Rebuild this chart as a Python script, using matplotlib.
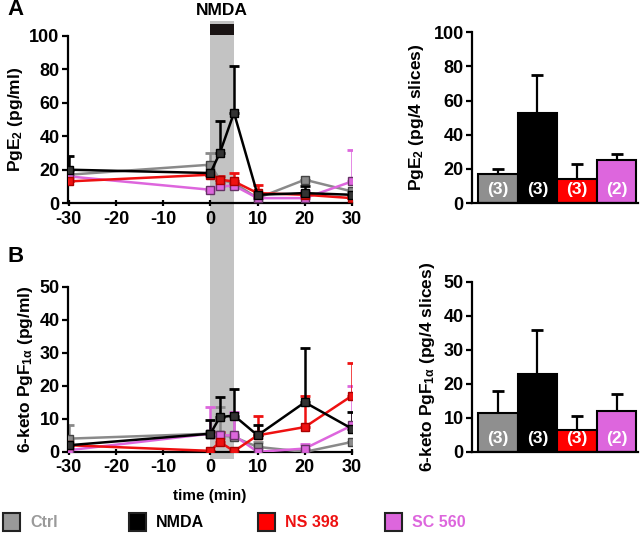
import numpy as np
import matplotlib
matplotlib.use("Agg")
import matplotlib.pyplot as plt
from matplotlib.patches import Rectangle
from matplotlib.transforms import blended_transform_factory

plt.rcParams['font.family'] = ['Liberation Sans', 'DejaVu Sans']
plt.rcParams['font.weight'] = 'bold'
plt.rcParams['axes.unicode_minus'] = False
plt.rcParams['mathtext.fontset'] = 'custom'
plt.rcParams['mathtext.rm'] = 'Liberation Sans:bold'
plt.rcParams['mathtext.it'] = 'Liberation Sans:bold'
plt.rcParams['mathtext.bf'] = 'Liberation Sans:bold'

# ---------------- data ----------------
time = [-30, 0, 2, 5, 10, 20, 30]
groups = ['Ctrl', 'NMDA', 'NS 398', 'SC 560']
line_colors = ['#8a8a8a', '#000000', '#ee1111', '#dd66dd']
marker_faces = ['#8a8a8a', '#333333', '#ee1111', '#dd66dd']
marker_edges = ['#444444', '#000000', '#aa0000', '#663366']
bar_colors = ['#8f8f8f', '#000000', '#ff0000', '#dd66dd']
legend_text_colors = ['#9a9a9a', '#000000', '#ee1111', '#dd66dd']

# PgE2 time courses (pg/ml)
pge2_ctrl = [17, 23, 14, 12, 3, 14, 7]
pge2_nmda = [20, 18, 30, 54, 5, 6, 5]
pge2_ns = [13, 17, 14, 13, 6, 5, 3]
pge2_sc = [16, 8, 10, 10.5, 3, 3, 13]
pge2_ctrl_err = [0, 7, 0, 0, 0, 0, 0]
pge2_nmda_err = [8, 0, 19, 28, 0, 4, 0]
pge2_ns_err = [0, 0, 2, 5, 5, 0, 0]
pge2_sc_err = [0, 0, 0, 0, 0, 4, 19]

# 6-keto PgF1a time courses (pg/ml)
pgf_ctrl = [4, 5.5, 5, 4.5, 1.5, 0, 3]
pgf_nmda = [2, 5.5, 10.5, 11, 5, 15, 7]
pgf_ns = [2, 0.3, 3, 0.2, 5, 7.5, 17]
pgf_sc = [0.5, 5.5, 5, 5, 0, 1, 8]
pgf_ctrl_err = [4, 0, 8.5, 6, 1.5, 0, 0]
pgf_nmda_err = [0, 4, 6, 8, 3, 16.5, 5]
pgf_ns_err = [0, 0, 3, 0, 6, 9.5, 10]
pgf_sc_err = [0, 8, 0, 7, 0, 1.5, 12]

# bar summaries
bar_pge2 = [17, 53, 14, 25]
bar_pge2_err = [3, 22, 9, 4]
bar_pgf = [11.5, 23, 6.5, 12]
bar_pgf_err = [6.5, 13, 4, 5]
bar_n = ['(3)', '(3)', '(3)', '(2)']

nmda_start, nmda_end = 0, 5

# ---------------- figure ----------------
fig = plt.figure(figsize=(6.4, 5.36), dpi=100)
ax_a = fig.add_axes([0.106, 0.621, 0.444, 0.312])
ax_b = fig.add_axes([0.106, 0.157, 0.444, 0.308])
ax_ar = fig.add_axes([0.7375, 0.621, 0.26, 0.319])
ax_br = fig.add_axes([0.7375, 0.157, 0.26, 0.317])

TICK_FS = 13
LABEL_FS = 12.5

def style(ax):
    ax.set_facecolor('none')
    for s in ['top', 'right']:
        ax.spines[s].set_visible(False)
    for s in ['left', 'bottom']:
        ax.spines[s].set_linewidth(1.6)
        ax.spines[s].set_color('black')
    ax.tick_params(axis='y', direction='out', length=4, width=1.6, labelsize=TICK_FS, pad=2)
    for lab in ax.get_yticklabels() + ax.get_xticklabels():
        lab.set_fontweight('bold')

def line_panel(ax, series, errs, ylim, yticks):
    order = [0, 3, 2, 1]
    for i in order:
        y = series[i]
        e = errs[i]
        ax.errorbar(time, y, yerr=[np.zeros(len(e)), e], fmt='none', ecolor=line_colors[i],
                    elinewidth=1.8, capsize=3.5, capthick=2, zorder=2)
        ax.plot(time, y, color=line_colors[i], lw=1.8, marker='s', ms=5.5,
                mfc=marker_faces[i], mec=marker_edges[i], mew=1, zorder=3)
    ax.set_xlim(-30.2, 29.6)
    ax.set_ylim(*ylim)
    ax.set_yticks(yticks)
    ax.set_xticks([-30, -20, -10, 0, 10, 20, 30])
    ax.tick_params(axis='x', direction='inout', length=5, width=1.6, labelsize=TICK_FS, pad=3)
    style(ax)

line_panel(ax_a, [pge2_ctrl, pge2_nmda, pge2_ns, pge2_sc],
           [pge2_ctrl_err, pge2_nmda_err, pge2_ns_err, pge2_sc_err], (0, 100), [0, 20, 40, 60, 80, 100])
line_panel(ax_b, [pgf_ctrl, pgf_nmda, pgf_ns, pgf_sc],
           [pgf_ctrl_err, pgf_nmda_err, pgf_ns_err, pgf_sc_err], (0, 50), [0, 10, 20, 30, 40, 50])
ax_a.set_ylabel('PgE$_{2}$ (pg/ml)', fontsize=LABEL_FS, fontweight='bold', labelpad=3)
ax_b.set_ylabel('6-keto PgF$_{1α}$ (pg/ml)', fontsize=LABEL_FS, fontweight='bold', labelpad=3)
ax_b.set_xlabel('time (min)', fontsize=11, fontweight='bold', labelpad=9)

def bar_panel(ax, vals, errs, ylim, yticks):
    xs = np.arange(len(vals))
    ax.bar(xs, vals, width=1.0, color=bar_colors, edgecolor='black', linewidth=1.5, zorder=2)
    ax.errorbar(xs, vals, yerr=[np.zeros(len(errs)), errs], fmt='none', ecolor='black',
                elinewidth=1.6, capsize=4, capthick=2, zorder=1)
    for x, t in zip(xs, bar_n):
        ax.text(x, ylim[1] * 0.08, t, ha='center', va='center', color='white',
                fontsize=12.5, fontweight='bold', zorder=3)
    ax.set_xlim(-0.65, 3.55)
    ax.set_ylim(*ylim)
    ax.set_yticks(yticks)
    ax.set_xticks([])
    style(ax)

bar_panel(ax_ar, bar_pge2, bar_pge2_err, (0, 100), [0, 20, 40, 60, 80, 100])
bar_panel(ax_br, bar_pgf, bar_pgf_err, (0, 50), [0, 10, 20, 30, 40, 50])
ax_ar.set_ylabel('PgE$_{2}$ (pg/4 slices)', fontsize=LABEL_FS, fontweight='bold', labelpad=5)
ax_br.set_ylabel('6-keto PgF$_{1α}$ (pg/4 slices)', fontsize=LABEL_FS, fontweight='bold', labelpad=5)

# NMDA shading spanning both time panels
tr = blended_transform_factory(ax_a.transData, fig.transFigure)
fig.patches.append(Rectangle((nmda_start, 0.1437), nmda_end - nmda_start, 0.961 - 0.1437,
                             transform=tr, facecolor='#c3c3c3', edgecolor='none', zorder=-1))
fig.patches.append(Rectangle((nmda_start, 0.935), nmda_end - nmda_start, 0.02,
                             transform=tr, facecolor='#1a1414', edgecolor='none', zorder=5))
fig.text((nmda_start + nmda_end) / 2, 0.981, 'NMDA', transform=tr, ha='center', va='center',
         fontsize=12.5, fontweight='bold')

# panel letters
fig.text(0.012, 0.982, 'A', fontsize=16, fontweight='bold', va='center')
fig.text(0.012, 0.522, 'B', fontsize=16, fontweight='bold', va='center')

# legend
leg_x = [0.005, 0.202, 0.403, 0.602]
for i, g in enumerate(groups):
    fig.patches.append(Rectangle((leg_x[i], 0.009), 0.026, 0.034, transform=fig.transFigure,
                                 facecolor=bar_colors[i] if i != 0 else '#999999',
                                 edgecolor='#222222', linewidth=1.5))
    fig.text(leg_x[i] + 0.042, 0.026, g, fontsize=11.5, fontweight='bold',
             color=legend_text_colors[i], va='center')

fig.savefig('out.png', dpi=100)
